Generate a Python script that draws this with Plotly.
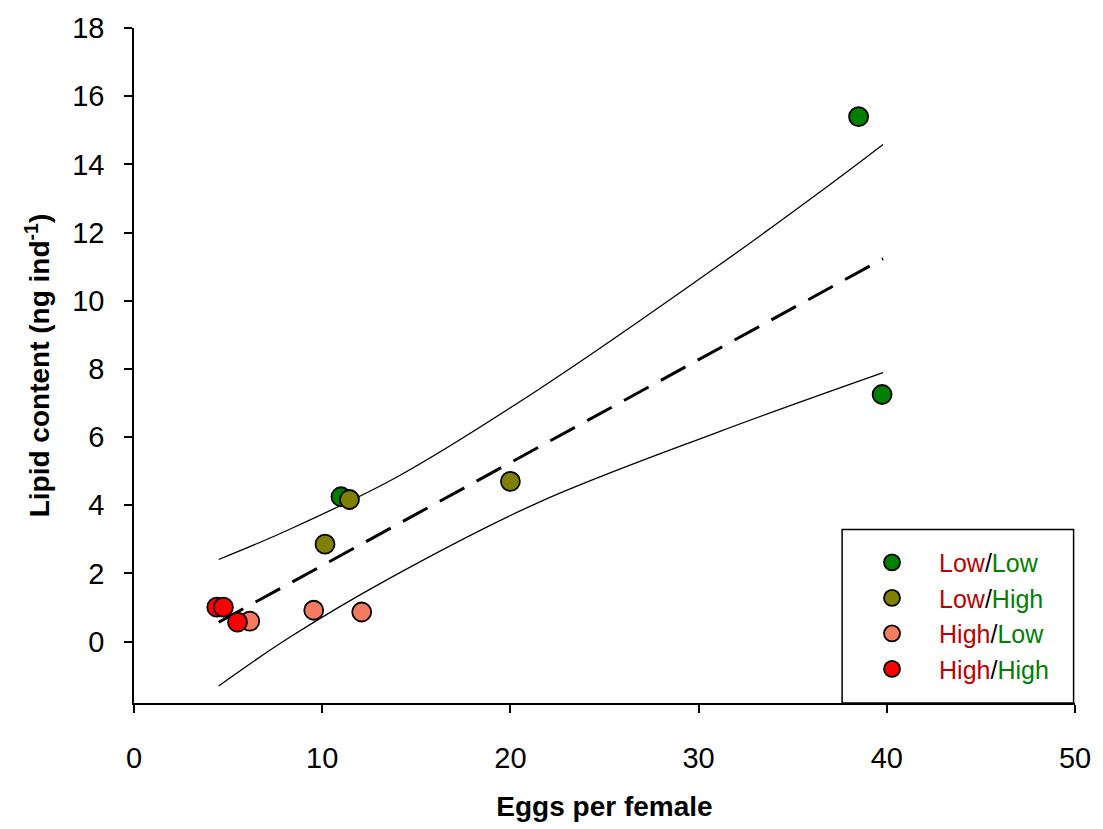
import plotly.graph_objects as go

# ---- data ----
ll_x = [38.5, 39.75, 11.0]
ll_y = [15.4, 7.25, 4.25]
lh_x = [11.45, 10.15, 20.0]
lh_y = [4.17, 2.86, 4.70]
hl_x = [9.55, 12.1, 6.15]
hl_y = [0.92, 0.87, 0.60]
hh_x = [4.4, 4.75, 5.5]
hh_y = [1.01, 1.01, 0.57]

fit_x = [4.5, 39.8]
fit_y = [0.57, 11.23]

upper_x = [4.5, 8.25, 14.07, 21.48, 31.0, 37.04, 39.8]
upper_y = [2.41, 3.29, 4.86, 7.39, 11.01, 13.43, 14.58]
lower_x = [4.5, 8.25, 13.55, 21.48, 31.0, 39.8]
lower_y = [-1.30, 0.12, 1.85, 4.08, 6.14, 7.89]

x_ticks = [0, 10, 20, 30, 40, 50]
y_ticks = [0, 2, 4, 6, 8, 10, 12, 14, 16, 18]

RED = "#C00000"
GRN = "#008000"


def lab(a, b):
    return (f'<span style="color:{RED}">{a}</span>/'
            f'<span style="color:{GRN}">{b}</span>')


FONT = "Liberation Sans, Arial, sans-serif"

fig = go.Figure()

band = dict(color="black", width=1.3, shape="spline", smoothing=1.0)
fig.add_trace(go.Scatter(x=upper_x, y=upper_y, mode="lines", line=band,
                         showlegend=False, hoverinfo="skip"))
fig.add_trace(go.Scatter(x=lower_x, y=lower_y, mode="lines", line=band,
                         showlegend=False, hoverinfo="skip"))
fig.add_trace(go.Scatter(x=fit_x, y=fit_y, mode="lines", line=dict(color="black", width=3, dash="28px,14px"),
                         showlegend=False, hoverinfo="skip"))

series = [
    (ll_x, ll_y, "#008000", lab("Low", "Low")),
    (lh_x, lh_y, "#808000", lab("Low", "High")),
    (hl_x, hl_y, "#F47A60", lab("High", "Low")),
    (hh_x, hh_y, "#FF0000", lab("High", "High")),
]
for i, (xs, ys, col, name) in enumerate(series):
    fig.add_trace(go.Scatter(x=xs, y=ys, mode="markers", name=name, legendgroup=f"g{i}",
                             marker=dict(size=19, color=col, line=dict(color="black", width=1.8))))

fig.update_layout(
    width=1103, height=829,
    margin=dict(l=134, r=22, t=23, b=125),
    plot_bgcolor="white", paper_bgcolor="white",
    font=dict(family=FONT, size=29, color="black"),
    showlegend=True,
    legend=dict(x=0.7556, y=0.242, xanchor="left", yanchor="top", xref="paper", yref="paper",
                bgcolor="rgba(0,0,0,0)", borderwidth=0, font=dict(size=25, family=FONT),
                itemwidth=84, traceorder="grouped", tracegroupgap=0),
    shapes=[dict(type="rect", xref="paper", yref="paper", x0=0.7525, x1=0.9985, y0=0, y1=0.257,
                 line=dict(color="black", width=1.5), fillcolor="rgba(0,0,0,0)", layer="above")],
)
fig.update_xaxes(range=[0, 50], tickvals=x_ticks, showline=True, linecolor="black", linewidth=1.5,
                 ticks="outside", ticklen=8, tickwidth=1.5, tickcolor="black", showgrid=False, zeroline=False,
                 ticklabelstandoff=20, tickfont=dict(size=29),
                 title=dict(text="<b>Eggs per female</b>", font=dict(size=28), standoff=24))
fig.update_yaxes(range=[-1.8, 18], tickvals=y_ticks, showline=True, linecolor="black", linewidth=1.5,
                 ticks="outside", ticklen=8, tickwidth=1.5, tickcolor="black", showgrid=False, zeroline=False,
                 ticklabelstandoff=14, tickfont=dict(size=29),
                 title=dict(text="<b>Lipid content (ng ind<sup>-1</sup>)</b>", font=dict(size=28), standoff=14))

fig.write_html("out.html")
